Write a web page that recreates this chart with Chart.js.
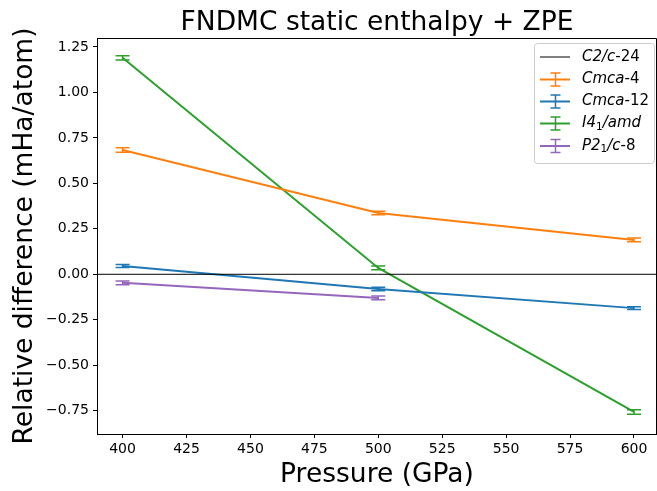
<!DOCTYPE html>
<html><head><meta charset="utf-8">
<script src="https://cdn.jsdelivr.net/npm/chart.js@4.4.0/dist/chart.umd.min.js"></script>
<style>html,body{margin:0;padding:0;background:#fff}#wrap{width:657px;height:491px}</style>
</head><body><div id="wrap"><canvas id="c" width="657" height="491"></canvas></div>
<script>
const pressures = [400, 500, 600];
const cmca4 = [0.683, 0.337, 0.189];
const cmca4Err = [0.012, 0.010, 0.010];
const cmca12 = [0.046, -0.081, -0.186];
const cmca12Err = [0.008, 0.010, 0.008];
const i41amd = [1.190, 0.035, -0.757];
const i41amdErr = [0.012, 0.010, 0.012];
const p21cPressures = [400, 500];
const p21c8 = [-0.047, -0.130];
const p21c8Err = [0.010, 0.010];
const refLineX = [390, 610];
const refLineY = [0, 0];
const xTicks = [400, 425, 450, 475, 500, 525, 550, 575, 600];
const yTicks = [-0.75, -0.5, -0.25, 0, 0.25, 0.5, 0.75, 1.0, 1.25];

const FONT = "'DejaVu Sans', sans-serif";
function pts(xs, ys) { return xs.map((x, i) => ({x: x, y: ys[i]})); }

const datasets = [
  {label: 'C2/c-24', data: pts(refLineX, refLineY), borderColor: '#000', borderWidth: 1, pointRadius: 0, showLine: true, errs: null},
  {label: 'Cmca-4', data: pts(pressures, cmca4), borderColor: '#ff7f0e', borderWidth: 2, pointRadius: 0, showLine: true, errs: cmca4Err},
  {label: 'Cmca-12', data: pts(pressures, cmca12), borderColor: '#1f77b4', borderWidth: 2, pointRadius: 0, showLine: true, errs: cmca12Err},
  {label: 'I41/amd', data: pts(pressures, i41amd), borderColor: '#2ca02c', borderWidth: 2, pointRadius: 0, showLine: true, errs: i41amdErr},
  {label: 'P21/c-8', data: pts(p21cPressures, p21c8), borderColor: '#9467bd', borderWidth: 2, pointRadius: 0, showLine: true, errs: p21c8Err}
];

const errPlugin = {
  id: 'errbars',
  afterDatasetDraw(chart, args) {
    const ds = chart.data.datasets[args.index];
    if (!ds.errs) return;
    const ctx = chart.ctx, xs = chart.scales.x, ys = chart.scales.y;
    ctx.save();
    ctx.strokeStyle = ds.borderColor; ctx.lineWidth = 1.5;
    ds.data.forEach((p, i) => {
      const px = xs.getPixelForValue(p.x);
      const y1 = ys.getPixelForValue(p.y + ds.errs[i]);
      const y2 = ys.getPixelForValue(p.y - ds.errs[i]);
      ctx.beginPath();
      ctx.moveTo(px, y1); ctx.lineTo(px, y2);
      ctx.moveTo(px - 7, y1); ctx.lineTo(px + 7, y1);
      ctx.moveTo(px - 7, y2); ctx.lineTo(px + 7, y2);
      ctx.stroke();
    });
    ctx.restore();
  }
};

function drawRich(ctx, parts, x, y, size) {
  let cx = x;
  parts.forEach(([t, s]) => {
    const sub = s[0] === 's';
    const it = s.endsWith('i');
    const fs = sub ? size * 0.7 : size;
    ctx.font = (it ? 'italic ' : '') + fs + 'px ' + FONT;
    ctx.fillText(t, cx, sub ? y + size * 0.22 : y);
    cx += ctx.measureText(t).width;
  });
}

const decoPlugin = {
  id: 'deco',
  afterDraw(chart) {
    const ctx = chart.ctx, a = chart.chartArea;
    ctx.save();
    ctx.strokeStyle = '#000'; ctx.lineWidth = 1;
    ctx.beginPath();
    ctx.moveTo(Math.round(a.left) + 0.5, Math.round(a.top) + 0.5);
    ctx.lineTo(Math.round(a.right) - 0.5, Math.round(a.top) + 0.5);
    ctx.lineTo(Math.round(a.right) - 0.5, Math.round(a.bottom) + 0.5);
    ctx.stroke();
    ctx.fillStyle = '#000';
    ctx.textAlign = 'center'; ctx.textBaseline = 'alphabetic';
    ctx.font = '26.5px ' + FONT;
    ctx.fillText('FNDMC static enthalpy + ZPE', (a.left + a.right) / 2, 30);
    ctx.fillText('Pressure (GPa)', (a.left + a.right) / 2, 482);
    ctx.save();
    ctx.translate(32, (a.top + a.bottom) / 2);
    ctx.rotate(-Math.PI / 2);
    ctx.fillText('Relative difference (mHa/atom)', 0, 0);
    ctx.restore();
    // legend
    const lx = 534, ly = 43, lw = 120, lh = 120;
    ctx.beginPath();
    if (ctx.roundRect) ctx.roundRect(lx + 0.5, ly + 0.5, lw, lh, 3); else ctx.rect(lx + 0.5, ly + 0.5, lw, lh);
    ctx.fillStyle = 'rgba(255,255,255,0.8)'; ctx.fill();
    ctx.strokeStyle = '#cccccc'; ctx.lineWidth = 1; ctx.stroke();
    const rows = [
      [[['C2/c', 'i'], ['-24', 'n']], 57],
      [[['Cmca', 'i'], ['-4', 'n']], 79.5],
      [[['Cmca', 'i'], ['-12', 'n']], 101.5],
      [[['I4', 'i'], ['1', 'sn'], ['/amd', 'i']], 123.5],
      [[['P2', 'i'], ['1', 'sn'], ['/c', 'i'], ['-8', 'n']], 146]
    ];
    ctx.textAlign = 'left'; ctx.textBaseline = 'middle';
    rows.forEach(([parts, yy], i) => {
      const ds = chart.data.datasets[i];
      ctx.strokeStyle = ds.borderColor;
      ctx.lineWidth = ds.borderWidth;
      ctx.beginPath(); ctx.moveTo(540, yy); ctx.lineTo(570, yy); ctx.stroke();
      if (ds.errs) {
        ctx.lineWidth = 1.5;
        ctx.beginPath();
        ctx.moveTo(555.5, yy - 6.5); ctx.lineTo(555.5, yy + 6.5);
        ctx.moveTo(550.5, yy - 6.5); ctx.lineTo(560.5, yy - 6.5);
        ctx.moveTo(550.5, yy + 6.5); ctx.lineTo(560.5, yy + 6.5);
        ctx.stroke();
      }
      ctx.fillStyle = '#000';
      drawRich(ctx, parts, 582, yy, 15);
    });
    ctx.restore();
  }
};

new Chart(document.getElementById('c'), {
  type: 'scatter',
  data: {datasets: datasets},
  options: {
    responsive: false, animation: false,
    layout: {padding: {left: 0, right: 0, top: 38, bottom: 0}},
    plugins: {legend: {display: false}, tooltip: {enabled: false}, title: {display: false}},
    scales: {
      x: {
        type: 'linear', min: 390, max: 609,
        afterFit(s) { s.height = 57; },
        afterBuildTicks(s) { s.ticks = xTicks.map(v => ({value: v})); },
        grid: {drawOnChartArea: false, drawTicks: true, tickLength: 4, color: '#000', tickWidth: 1},
        border: {display: true, color: '#000', width: 1},
        ticks: {color: '#000', font: {family: FONT, size: 14}, padding: 3, maxRotation: 0, autoSkip: false, callback: v => String(v)}
      },
      y: {
        type: 'linear', min: -0.878, max: 1.299,
        afterFit(s) { s.width = 97; },
        afterBuildTicks(s) { s.ticks = yTicks.map(v => ({value: v})); },
        grid: {drawOnChartArea: false, drawTicks: true, tickLength: 4, color: '#000', tickWidth: 1},
        border: {display: true, color: '#000', width: 1},
        ticks: {color: '#000', font: {family: FONT, size: 14}, padding: 4, autoSkip: false, callback: v => v.toFixed(2).replace('-', '\u2212')}
      }
    }
  },
  plugins: [errPlugin, decoPlugin]
});
</script></body></html>
